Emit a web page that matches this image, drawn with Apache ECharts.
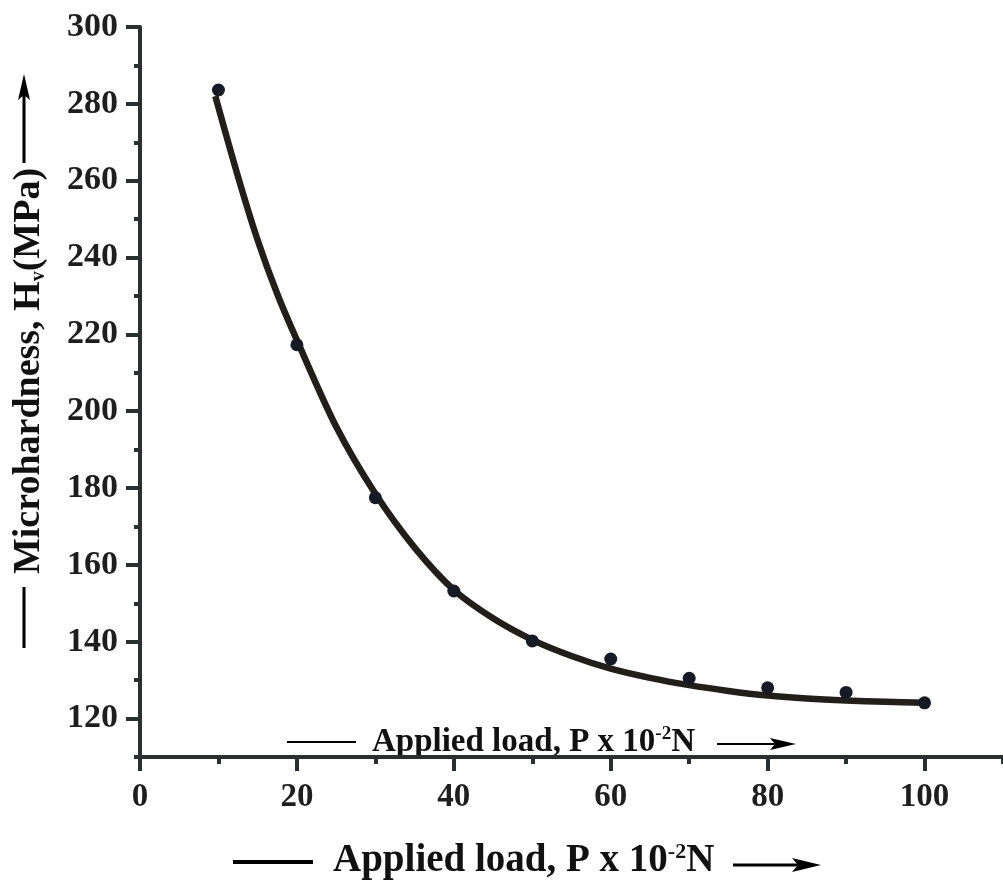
<!DOCTYPE html>
<html>
<head>
<meta charset="utf-8">
<script src="https://cdn.jsdelivr.net/npm/echarts@6/dist/echarts.min.js"></script>
<style>
  html, body { margin: 0; padding: 0; background: #fff; }
  #chart { width: 1003px; height: 887px; }
</style>
</head>
<body>
<div id="chart"></div>
<script>
// measured points
var loads = [10, 20, 30, 40, 50, 60, 70, 80, 90, 100];
var hardness = [283.6, 217.3, 177.5, 153.2, 140.2, 135.5, 130.5, 128.0, 126.8, 124.1];

// fitted curve
var fitLoads = [9.6, 12.5, 15, 17.5, 20, 25, 30, 35, 40, 45, 50, 55, 60, 65, 70, 75, 80, 85, 90, 95, 100];
var fitHardness = [282, 261, 244.5, 230.5, 218.5, 196, 178.5, 164.5, 153.5, 146.1, 140.5, 136.3, 133, 130.6, 128.7, 127.2, 126, 125.2, 124.7, 124.4, 124.1];

// ticks
var yMajorTicks = [120, 140, 160, 180, 200, 220, 240, 260, 280, 300];
var yMinorTicks = [110, 130, 150, 170, 190, 210, 230, 250, 270, 290];
var xMajorTicks = [0, 20, 40, 60, 80, 100];
var xMinorTicks = [10, 30, 50, 70, 90, 110];

var axisColor = '#2a2f31';
var serif = '"Liberation Serif", "DejaVu Serif", serif';

var myChart = echarts.init(document.getElementById('chart'));

function zip(a, b) {
  return a.map(function (v, i) { return [v, b[i]]; });
}

myChart.setOption({
  animation: false,
  grid: { left: 140, right: 0, top: 27, bottom: 130 },
  xAxis: [
    {
      type: 'value', min: 0, max: 110,
      axisLine: { onZero: false, lineStyle: { color: axisColor, width: 4 } },
      axisTick: { customValues: xMajorTicks, length: 14, lineStyle: { color: axisColor, width: 4 } },
      axisLabel: {
        customValues: xMajorTicks, margin: 24,
        fontFamily: serif, fontWeight: 'bold', fontSize: 33, color: '#1e1e1e'
      },
      splitLine: { show: false }
    },
    {
      type: 'value', min: 0, max: 110, position: 'bottom',
      axisLine: { show: false, onZero: false },
      axisTick: { customValues: xMinorTicks, length: 7, lineStyle: { color: axisColor, width: 4 } },
      axisLabel: { show: false },
      splitLine: { show: false }
    }
  ],
  yAxis: [
    {
      type: 'value', min: 110, max: 300,
      axisLine: { show: true, lineStyle: { color: axisColor, width: 4 } },
      axisTick: { show: true, customValues: yMajorTicks, length: 14, lineStyle: { color: axisColor, width: 4 } },
      axisLabel: {
        customValues: yMajorTicks, margin: 22,
        fontFamily: serif, fontWeight: 'bold', fontSize: 34, color: '#1e1e1e'
      },
      splitLine: { show: false }
    },
    {
      type: 'value', min: 110, max: 300, position: 'left',
      axisLine: { show: false },
      axisTick: { show: true, customValues: yMinorTicks, length: 6, lineStyle: { color: axisColor, width: 4 } },
      axisLabel: { show: false },
      splitLine: { show: false }
    }
  ],
  series: [
    {
      type: 'line',
      data: zip(fitLoads, fitHardness),
      smooth: 0.3,
      showSymbol: false,
      lineStyle: { color: '#221e1a', width: 6.5 },
      z: 2
    },
    {
      type: 'scatter',
      data: zip(loads, hardness),
      symbolSize: 13,
      itemStyle: { color: '#161a24', opacity: 1 },
      z: 3
    }
  ],
  graphic: [
    // y title
    {
      type: 'text', x: 29, y: 371, rotation: Math.PI / 2,
      style: {
        text: '{a|Microhardness, H}{s|v}{a|(MPa)}',
        align: 'center', verticalAlign: 'middle',
        rich: {
          a: { fontFamily: serif, fontWeight: 'bold', fontSize: 38, fill: '#111', lineHeight: 40 },
          s: { fontFamily: serif, fontWeight: 'bold', fontSize: 20, fill: '#111', verticalAlign: 'bottom', lineHeight: 22 }
        }
      }
    },
    { type: 'line', shape: { x1: 24, y1: 587, x2: 24, y2: 648 }, style: { stroke: '#000', lineWidth: 3 } },
    { type: 'line', shape: { x1: 24, y1: 163, x2: 24, y2: 95 }, style: { stroke: '#000', lineWidth: 3 } },
    { type: 'polygon', shape: { points: [[24, 74], [18, 100], [24, 95], [30, 100]] }, style: { fill: '#000' } },

    // title inside the plot
    {
      type: 'text', x: 372, y: 742,
      style: {
        text: '{a|Applied load, P x 10}{s|-2}{a|N}',
        align: 'left', verticalAlign: 'middle',
        rich: {
          a: { fontFamily: serif, fontWeight: 'bold', fontSize: 33, fill: '#111', lineHeight: 34 },
          s: { fontFamily: serif, fontWeight: 'bold', fontSize: 19, fill: '#111', verticalAlign: 'top', lineHeight: 19 }
        }
      }
    },
    { type: 'line', shape: { x1: 287, y1: 742, x2: 356, y2: 742 }, style: { stroke: '#000', lineWidth: 2 } },
    { type: 'line', shape: { x1: 717, y1: 744, x2: 780, y2: 744 }, style: { stroke: '#000', lineWidth: 2 } },
    { type: 'polygon', shape: { points: [[796, 744], [770, 738], [775, 744], [770, 750]] }, style: { fill: '#000' } },

    // bottom title
    {
      type: 'text', x: 333, y: 861,
      style: {
        text: '{a|Applied load, P x 10}{s|-2}{a|N}',
        align: 'left', verticalAlign: 'middle',
        rich: {
          a: { fontFamily: serif, fontWeight: 'bold', fontSize: 39, fill: '#111', lineHeight: 40 },
          s: { fontFamily: serif, fontWeight: 'bold', fontSize: 22, fill: '#111', verticalAlign: 'top', lineHeight: 22 }
        }
      }
    },
    { type: 'line', shape: { x1: 233, y1: 862, x2: 313, y2: 862 }, style: { stroke: '#000', lineWidth: 4 } },
    { type: 'line', shape: { x1: 733, y1: 865, x2: 800, y2: 865 }, style: { stroke: '#000', lineWidth: 3 } },
    { type: 'polygon', shape: { points: [[821, 865], [792, 858], [798, 865], [792, 872]] }, style: { fill: '#000' } }
  ]
});

window.addEventListener('resize', function () {
  myChart.resize();
});
</script>
</body>
</html>
